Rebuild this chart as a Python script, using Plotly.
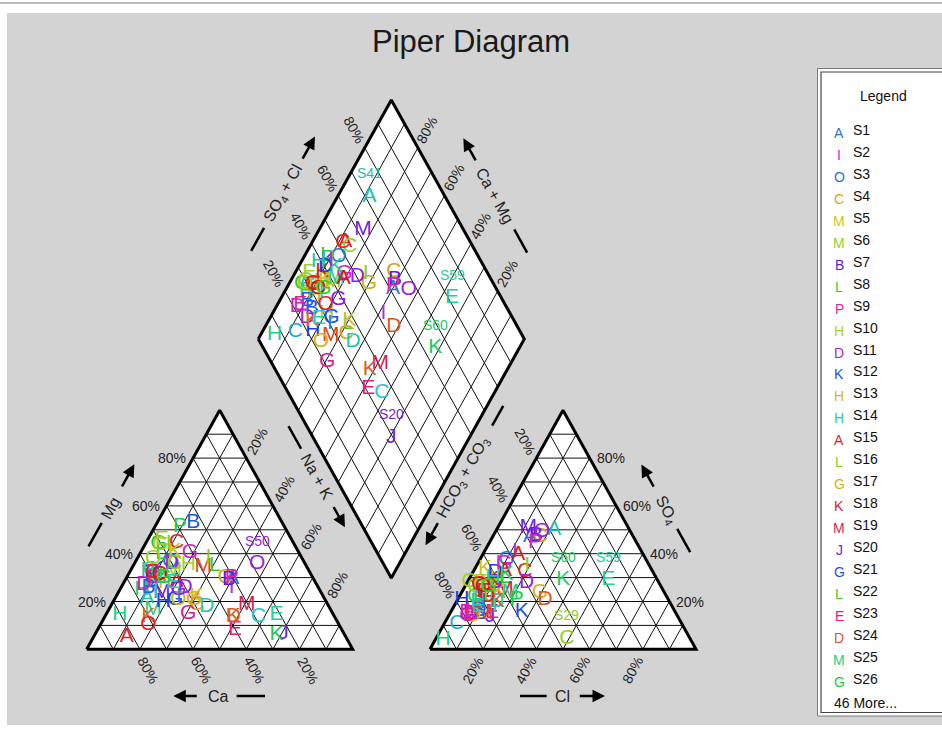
import plotly.graph_objects as go

# ---------------- data (percent of meq) ----------------
names = [f"S{i}" for i in range(1, 73)]
letters = ["A","I","O","C","M","M","B","L","P","H","D","K","H","H","A","L","G","K","M","J",
           "G","L","E","D","M","G","P","B","C","E","G","C","K","G","M","I","C","E","D","A",
           "A","D","H","B","M","H","O","K","C","O","D","C","K","K","O","G","C","E","E","K",
           "G","I","E","H","K","I","O","I","G","O","D","G"]
colors = ["#2f6fd8","#b030e0","#1f74d8","#d4a418","#d4c418","#94d02a","#5a1ee0","#1ed02a","#e01eb0","#a8d030",
          "#a81ee0","#1e50e0","#d4b41e","#1ed08c","#e01e1e","#78d01e","#d4b01e","#d01e1e","#d81e50","#6a1ee0",
          "#1e50e0","#3ccf1e","#e01e82","#e0561e","#1ed080","#1ec83c","#1ed046","#1e5ae0","#8cd21e","#a0d028",
          "#9ccf28","#e0281e","#ccc01e","#d21ed2","#e0461e","#7ed21e","#1ec8c8","#e01e28","#2a3ce0","#e0141e",
          "#1ec0b0","#9a1ee0","#1ed05a","#1e64e0","#781ee0","#1e3ce0","#d2b41e","#d2be1e","#d4a01e","#9a1ee0",
          "#1ecca0","#1ec8d0","#d2641e","#e0641e","#e0281e","#8c1ee0","#1eaae0","#e01e96","#1ecf9a","#1ec85a",
          "#d21e96","#1e82e0","#1ed0b4","#1ec8a0","#1ed064","#e01ec8","#a0d21e","#1ec8b4","#e01e32","#d2141e",
          "#c81ec8","#32d21e"]
mg  = [29.5,25.6,36.7,30,30,33,29,40,29.8,35.4,36,33.2,28,14.4,5.3,44,20.7,30,18.6,6.7,
       20.7,35,8.1,13.7,16.5,44,51.4,52.8,36,45.8,43.7,44.4,40.9,40.2,34.6,38.1,33.2,29.8,28.3,28.3,
       21.4,25.6,24.9,25.6,23.5,20,20.7,22,18.6,35.6,17.9,13.7,13.7,13.7,10.2,25,30,32,14.4,6,
       15,22,28,33,31,30,38,24,32,31,27,30]
nak = [40,41.7,13,37,12,16,39,8,39.6,20.5,14,9.7,12,5.3,12.4,10,30,10,50.9,70.6,
       22.9,30.7,51.7,48.3,16.7,5,9.4,13.7,15,5.3,5.7,11.6,12.7,18.7,26.5,26.7,7.2,9.5,10.2,19.6,
       12,24.2,8.3,10.4,16.5,18.8,24.1,30.3,32,46.3,36.2,57.7,48.3,16.3,18.1,22,12.3,8.7,64.2,68.4,
       30.6,23.7,18.4,6.6,14,11,6,14,9,12,8,14]
so4 = [47.2,40.9,37.4,47,28,30,47.7,30,44.4,25,15,15.8,22,3.9,39.5,28,23.5,29,25,13.7,
       22,25,15.2,20.7,23.5,22,20.7,15,4.6,28,26,32.5,33.9,36,15,35,22,24,31.9,33,
       50,27.7,20,16,50.7,20.7,14,24,22,49.3,20,20,20,16,22,28,10.9,15,29,29,
       14,20,18,30,31.1,36,28.3,17.9,27,26,15.1,26]
cl  = [14,11.5,10.1,18,8,10,16,13,17.3,6,7.7,26.6,8,3.0,13.4,12,29.6,9,15.7,15.7,
       10,12,15.7,32.9,18.4,6,22.3,11.5,49.1,5,4,19.4,3.7,10,13,19,8,8,8.5,11.7,
       21.7,22.5,8,10.5,11.6,1.6,9,14,12,17.4,15,15.1,15.5,8,10.6,10.3,4.6,7.9,52.5,35.6,
       7.1,10.2,9,8.8,13.2,7.7,0.8,15.5,5,7,6.3,9]

cation_labels = ["S50"]
anion_labels = ["S60", "S59", "S29"]
diamond_labels = ["S41", "S59", "S60", "S20"]
ticks = [20, 40, 60, 80]
grid_steps = list(range(10, 100, 10))
legend_count = 26

# ---------------- geometry ----------------
SIDE = 266.0
H = 239.0
CAT_X0, CAT_Y0 = 86.7, 649.3
AN_X0, AN_Y0 = 430.0, 649.3
DL_X, DL_Y = 258.3, 339.0
HALF = SIDE / 2

def cat_xy(m, n):
    return CAT_X0 + SIDE * (n / 100 + m / 200), CAT_Y0 - H * m / 100

def an_xy(s, c):
    return AN_X0 + SIDE * (c / 100 + s / 200), AN_Y0 - H * s / 100

def dia_xy(a, b):
    return DL_X + HALF * (a + b) / 100, DL_Y + H * (a - b) / 100

FONT = "Liberation Sans, Arial, sans-serif"
fig = go.Figure()

def poly(fn, pts, width, fill=None):
    xs, ys = [], []
    for p in pts:
        x, y = fn(*p)
        xs.append(x); ys.append(y)
    xs.append(xs[0]); ys.append(ys[0])
    fig.add_trace(go.Scatter(x=xs, y=ys, mode="lines", line=dict(color="black", width=width),
                             fill="toself" if fill else None, fillcolor=fill, hoverinfo="skip",
                             showlegend=False))

def seglines(fn, segs, width, color):
    xs, ys = [], []
    for p0, p1 in segs:
        x0, y0 = fn(*p0); x1, y1 = fn(*p1)
        xs += [x0, x1, None]; ys += [y0, y1, None]
    fig.add_trace(go.Scatter(x=xs, y=ys, mode="lines", line=dict(color=color, width=width),
                             hoverinfo="skip", showlegend=False))

tri_outline = [(0, 0), (0, 100), (100, 0)]
dia_outline = [(0, 0), (0, 100), (100, 100), (100, 0)]

# white fills
poly(cat_xy, tri_outline, 0.1, "white")
poly(an_xy, tri_outline, 0.1, "white")
poly(dia_xy, dia_outline, 0.1, "white")

# grids
tri_segs = []
for k in grid_steps:
    tri_segs.append(((k, 0), (k, 100 - k)))
    tri_segs.append(((0, k), (100 - k, k)))
    tri_segs.append(((0, 100 - k), (100 - k, 0)))
seglines(cat_xy, tri_segs, 1, "#111")
seglines(an_xy, tri_segs, 1, "#111")
dia_segs = []
for k in grid_steps:
    dia_segs.append(((k, 0), (k, 100)))
    dia_segs.append(((0, k), (100, k)))
seglines(dia_xy, dia_segs, 1, "#111")

poly(cat_xy, tri_outline, 3)
poly(an_xy, tri_outline, 3)
poly(dia_xy, dia_outline, 3)

# ---------------- sample points ----------------
cx, cy, ax_, ay_, dx, dy = [], [], [], [], [], []
for i in range(len(names)):
    x, y = cat_xy(mg[i], nak[i]); cx.append(x); cy.append(y)
    x, y = an_xy(so4[i], cl[i]); ax_.append(x); ay_.append(y)
    x, y = dia_xy(nak[i], so4[i] + cl[i]); dx.append(x); dy.append(y)

for X, Y in [(cx, cy), (ax_, ay_), (dx, dy)]:
    fig.add_trace(go.Scatter(x=X, y=Y, mode="text", text=letters, textposition="middle center",
                             textfont=dict(family=FONT, size=21, color=colors),
                             hoverinfo="skip", showlegend=False, cliponaxis=False))

ann = []
def label_points(lbls, X, Y):
    for nm in lbls:
        i = names.index(nm)
        ann.append(dict(x=X[i], y=Y[i], yshift=23, text=nm, showarrow=False,
                        font=dict(family=FONT, size=14, color=colors[i]),
                        xanchor="center", yanchor="middle"))
label_points(cation_labels, cx, cy)
label_points(anion_labels, ax_, ay_)
label_points(diamond_labels, dx, dy)

# ---------------- tick labels ----------------
TF = dict(family=FONT, size=14, color="#222")
def tick(x, y, txt, angle=0, xanchor="center"):
    ann.append(dict(x=x, y=y, text=txt, showarrow=False, textangle=angle, font=TF,
                    xanchor=xanchor, yanchor="middle"))

for t in ticks:
    x, y = cat_xy(t, 0); tick(x - 5, y, f"{t}%", 0, "right")            # Mg
    x, y = cat_xy(0, 100 - t); tick(x + 8, y + 21, f"{t}%", 61)          # Ca
    x, y = cat_xy(100 - t, t); tick(x + 11, y - 17, f"{t}%", -61)        # Na+K
    x, y = an_xy(0, t); tick(x - 10, y + 21, f"{t}%", -61)               # Cl
    x, y = an_xy(t, 100 - t); tick(x + 5, y, f"{t}%", 0, "left")         # SO4
    x, y = an_xy(100 - t, 0); tick(x - 11.7, y - 16.7, f"{t}%", 61)      # HCO3
    x, y = dia_xy(0, t); tick(x - 10.5, y - 17.7, f"{t}%", 61)           # SO4+Cl
    x, y = dia_xy(100 - t, 100); tick(x + 9, y - 17.7, f"{t}%", -61)     # Ca+Mg

# ---------------- axis titles with arrows ----------------
shapes = []
AF = dict(family=FONT, size=16, color="#222")
def axis_title(center, u, txt, angle, line_rng, arrow_rng):
    cxp, cyp = center
    ann.append(dict(x=cxp, y=cyp, text=txt, showarrow=False, textangle=angle, font=AF,
                    xanchor="center", yanchor="middle"))
    p = lambda s: (cxp + u[0] * s, cyp + u[1] * s)
    (x0, y0), (x1, y1) = p(line_rng[0]), p(line_rng[1])
    shapes.append(dict(type="line", x0=x0, y0=y0, x1=x1, y1=y1, xref="x", yref="y",
                       line=dict(color="black", width=2.5)))
    (tx, ty), (hx, hy) = p(arrow_rng[0]), p(arrow_rng[1])
    ann.append(dict(x=hx, y=hy, ax=tx, ay=ty, axref="x", ayref="y", xref="x", yref="y",
                    text="", showarrow=True, arrowhead=2, arrowsize=1, arrowwidth=2.5,
                    arrowcolor="black", standoff=0, startstandoff=0))

UR = (0.487, -0.873); DR = (0.487, 0.873); UL = (-0.487, -0.873); DL = (-0.487, 0.873)
axis_title((110, 508), UR, "Mg", -61, (-44, -17), (23, 50))
axis_title((218.3, 696), (-1, 0), "Ca", 0, (-18.4, -46.7), (20, 45))
axis_title((316.7, 476.7), DR, "Na + K", 61, (-58, -32), (33, 58))
axis_title((562.7, 696), (1, 0), "Cl", 0, (-42.7, -16), (15.6, 42.3))
axis_title((666.7, 510), UL, "SO<sub>4</sub>", 61, (-21.6, -48.2), (25, 52))
axis_title((463.3, 477.5), DL, "HCO<sub>3</sub> + CO<sub>3</sub>", -61, (-59.3, -82), (50.5, 77.5))
axis_title((283.3, 193.3), UR, "SO<sub>4</sub> + Cl", -61, (-66, -39.5), (38, 65))
axis_title((495, 195), UL, "Ca + Mg", 61, (-39.5, -66), (38, 65))

# ---------------- frame, title, legend ----------------
shapes.insert(0, dict(type="rect", x0=7, y0=13, x1=942, y1=725, xref="x", yref="y",
                      fillcolor="#d3d3d3", line=dict(width=0), layer="below"))
shapes.insert(1, dict(type="line", x0=0, y0=3, x1=942, y1=3, xref="x", yref="y",
                      line=dict(color="#a0a0a0", width=1.5), layer="below"))
shapes.append(dict(type="rect", x0=817.5, y0=68.5, x1=950, y1=716, xref="x", yref="y",
                   fillcolor="white", line=dict(color="#7a7a7a", width=1)))
shapes.append(dict(type="rect", x0=821, y0=72, x1=950, y1=712.5, xref="x", yref="y",
                   fillcolor="white", line=dict(color="#444", width=1.2)))

ann.append(dict(x=471, y=41, text="Piper Diagram", showarrow=False,
                font=dict(family=FONT, size=31, color="#1a1a1a"), xanchor="center", yanchor="middle"))
ann.append(dict(x=883, y=96, text="Legend", showarrow=False,
                font=dict(family=FONT, size=14, color="#111"), xanchor="center", yanchor="middle"))
for i in range(legend_count):
    yy = 130 + 21.95 * i
    ann.append(dict(x=839, y=yy + 3, text=letters[i], showarrow=False,
                    font=dict(family=FONT, size=14, color=colors[i]), xanchor="center", yanchor="middle"))
    ann.append(dict(x=851, y=yy, text=names[i], showarrow=False,
                    font=dict(family=FONT, size=14, color="#111"), xanchor="left", yanchor="middle"))
ann.append(dict(x=832, y=703, text=f"{len(names) - legend_count} More...", showarrow=False,
                font=dict(family=FONT, size=14, color="#111"), xanchor="left", yanchor="middle"))

fig.update_layout(
    width=942, height=729, margin=dict(l=0, r=0, t=0, b=0),
    paper_bgcolor="white", plot_bgcolor="white",
    xaxis=dict(range=[0, 942], visible=False, fixedrange=True),
    yaxis=dict(range=[729, 0], visible=False, fixedrange=True),
    shapes=shapes, annotations=ann, hovermode=False, showlegend=False,
)
fig.write_html("out.html", include_plotlyjs=True, full_html=True,
               config={"displayModeBar": False, "staticPlot": True},
               post_script="document.body.style.margin='0';document.body.style.overflow='hidden';")
